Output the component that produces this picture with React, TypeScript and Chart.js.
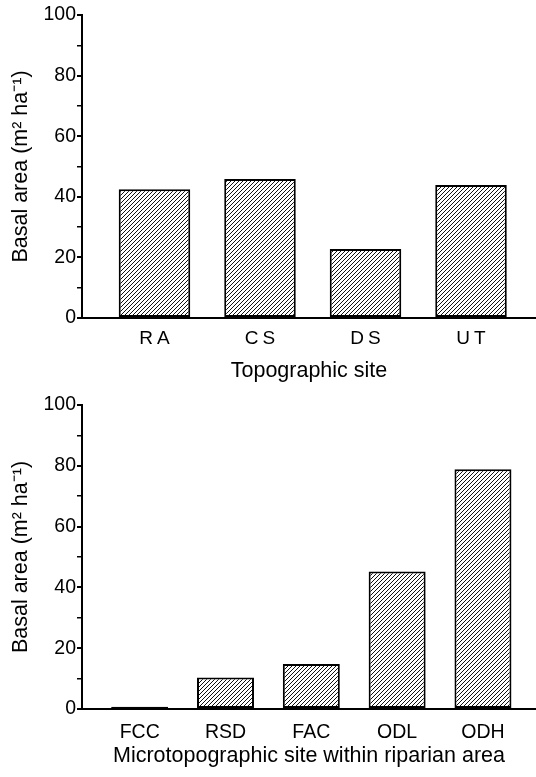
import React, { useEffect, useRef } from "react";
import { Chart, registerables } from "chart.js";

Chart.register(...registerables);

// ---- data ----
const topCategories = ["RA", "CS", "DS", "UT"];
const topValues = [42.5, 45.9, 22.8, 43.9];
const topTitle = "Topographic site";

const bottomCategories = ["FCC", "RSD", "FAC", "ODL", "ODH"];
const bottomValues = [0.7, 10.4, 14.8, 45.2, 78.9];
const bottomTitle = "Microtopographic site within riparian area";

const yTitle = "Basal area (m² ha⁻¹)";
const yMin = 0;
const yMax = 100;
const yStep = 10;
const yLabelEvery = 20;

const FONT = 'Arial, "Liberation Sans", Helvetica, sans-serif';

function makeHatch(): CanvasPattern | string {
  const s = 4;
  const c = document.createElement("canvas");
  c.width = s;
  c.height = s;
  const g = c.getContext("2d");
  if (!g) return "#fff";
  g.fillStyle = "#fff";
  g.fillRect(0, 0, s, s);
  g.strokeStyle = "#111";
  g.lineWidth = 1;
  g.beginPath();
  g.moveTo(0, s);
  g.lineTo(s, 0);
  g.moveTo(-1, 1);
  g.lineTo(1, -1);
  g.moveTo(s - 1, s + 1);
  g.lineTo(s + 1, s - 1);
  g.stroke();
  const p = g.createPattern(c, "repeat");
  return p || "#fff";
}

interface PanelProps {
  categories: string[];
  values: number[];
  xTitle: string;
  height: number;
  xMin: number;
  xMax: number;
  barPct: number;
  xAxisHeight: number;
  tickFont: number;
  tickPad: number;
  titlePadBottom: number;
  letterSpacing: number;
}

function Panel(p: PanelProps) {
  const ref = useRef<HTMLCanvasElement | null>(null);
  useEffect(() => {
    if (!ref.current) return;
    const hatch = makeHatch();
    const spacingPlugin = {
      id: "xLetterSpacing",
      afterLayout(chart: any) {
        const sx = chart.scales.x;
        if (!sx || sx.__patched || !p.letterSpacing) return;
        const orig = sx.drawLabels.bind(sx);
        sx.drawLabels = (area: any) => {
          const ctx = chart.ctx as any;
          ctx.save();
          ctx.letterSpacing = p.letterSpacing + "px";
          ctx.translate(p.letterSpacing / 2, 0);
          orig(area);
          ctx.restore();
        };
        sx.__patched = true;
      },
    };
    const chart = new Chart(ref.current, {
      type: "bar",
      data: {
        datasets: [
          {
            data: p.values.map((v, i) => ({ x: i, y: v })),
            backgroundColor: hatch as any,
            borderColor: "#000",
            borderWidth: 2,
            borderSkipped: false,
            barPercentage: p.barPct,
            categoryPercentage: 1,
          },
        ],
      },
      plugins: [spacingPlugin],
      options: {
        responsive: false,
        animation: false,
        devicePixelRatio: 1,
        layout: { padding: { top: 15, right: 0, bottom: 0, left: 0 } },
        plugins: {
          legend: { display: false },
          tooltip: { enabled: false },
        },
        scales: {
          x: {
            type: "linear",
            offset: false,
            min: p.xMin,
            max: p.xMax,
            afterBuildTicks: (scale: any) => {
              scale.ticks = p.categories.map((_, i) => ({ value: i }));
            },
            afterFit: (scale: any) => {
              scale.height = p.xAxisHeight;
            },
            grid: { display: false, drawTicks: false },
            border: { display: true, color: "#000", width: 2 },
            ticks: {
              autoSkip: false,
              maxRotation: 0,
              padding: p.tickPad,
              color: "#000",
              font: { family: FONT, size: p.tickFont },
              callback: (v: any) => p.categories[Number(v)] ?? "",
            },
            title: {
              display: true,
              text: p.xTitle,
              color: "#000",
              font: { family: FONT, size: 21.5 },
              padding: { top: 0, bottom: p.titlePadBottom },
            },
          },
          y: {
            min: yMin,
            max: yMax,
            afterFit: (scale: any) => {
              scale.width = 82;
            },
            grid: {
              display: true,
              drawOnChartArea: false,
              drawTicks: true,
              tickLength: 5,
              color: "#000",
              lineWidth: (ctx: any) =>
                ctx.tick && ctx.tick.value % yLabelEvery === 0 ? 2 : 1.5,
            },
            border: { display: true, color: "#000", width: 2 },
            ticks: {
              stepSize: yStep,
              padding: 1,
              color: "#000",
              font: { family: FONT, size: 19.5 },
              callback: (v: any) =>
                Number(v) % yLabelEvery === 0 ? String(v) : "",
            },
            title: {
              display: true,
              text: yTitle,
              color: "#000",
              font: { family: FONT, size: 21.5 },
              padding: { top: 8, bottom: 0 },
            },
          },
        },
      } as any,
    });
    return () => chart.destroy();
  }, []);
  return (
    <canvas
      ref={ref}
      width={536}
      height={p.height}
      style={{ display: "block", width: 536, height: p.height }}
    />
  );
}

export default function App() {
  return (
    <div
      style={{
        position: "absolute",
        left: 0,
        top: 0,
        width: 536,
        height: 777,
        background: "#fff",
      }}
    >
      <Panel
        categories={topCategories}
        values={topValues}
        xTitle={topTitle}
        height={390}
        xMin={-0.687}
        xMax={3.616}
        barPct={0.678}
        xAxisHeight={72}
        tickFont={19}
        tickPad={9}
        titlePadBottom={6.5}
        letterSpacing={4}
      />
      <Panel
        categories={bottomCategories}
        values={bottomValues}
        xTitle={bottomTitle}
        height={387}
        xMin={-0.672}
        xMax={4.618}
        barPct={0.664}
        xAxisHeight={68}
        tickFont={19.5}
        tickPad={12}
        titlePadBottom={8}
        letterSpacing={0}
      />
    </div>
  );
}
